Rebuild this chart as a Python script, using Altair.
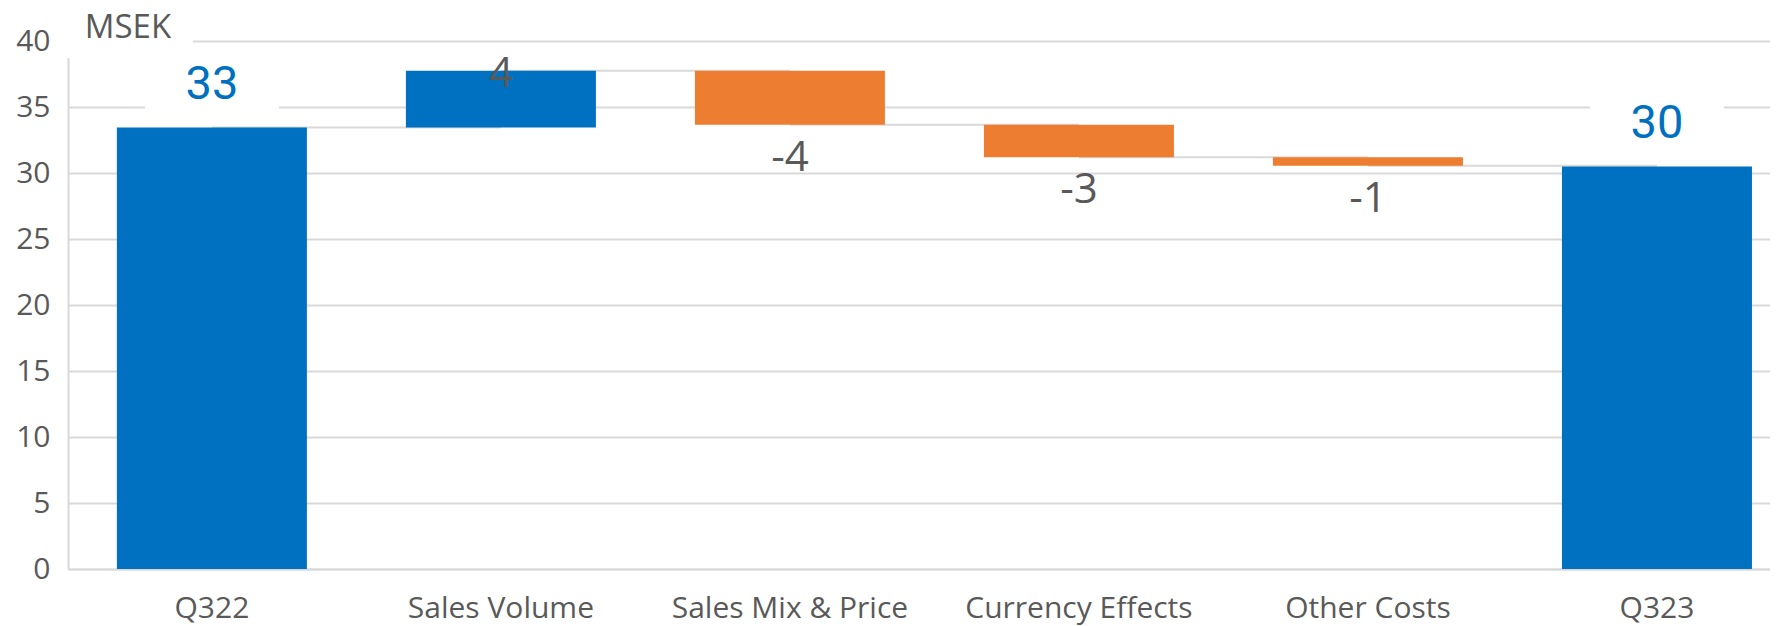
import altair as alt
import pandas as pd

categories = ["Q322", "Sales Volume", "Sales Mix & Price", "Currency Effects", "Other Costs", "Q323"]
bar_start = [0, 33.45, 37.75, 33.65, 31.2, 0]
bar_end = [33.45, 37.75, 33.65, 31.2, 30.55, 30.5]
labels = ["33", "4", "-4", "-3", "-1", "30"]
kinds = ["total", "up", "down", "down", "down", "total"]
y_ticks = [0, 5, 10, 15, 20, 25, 30, 35, 40]
unit_label = "MSEK"

df = pd.DataFrame({
    "category": categories,
    "start": bar_start,
    "end": bar_end,
    "label": labels,
    "kind": kinds,
})
conn = pd.DataFrame({
    "category": categories[:-1],
    "next": categories[1:],
    "level": bar_end[:-1],
})

GRID = "#d9d9d9"
TXT = "#595959"
BLUE = "#0070C0"
ORANGE = "#ED7D31"

x_scale = alt.Scale(domain=categories, paddingInner=0.343, paddingOuter=0.116, align=0.73)
y_scale = alt.Scale(domain=[0, 40], nice=False, zero=True)

x_axis = alt.Axis(title=None, labelAngle=0, labelFontSize=30, labelColor=TXT, labelFont="Open Sans",
                  ticks=False, domainColor=GRID, domainWidth=2, labelPadding=24, labelLimit=500,
                  grid=False)
y_axis = alt.Axis(title=None, values=y_ticks, labelFontSize=30, labelColor=TXT, labelFont="Open Sans",
                  ticks=False, domainColor=GRID, domainWidth=2, labelPadding=18,
                  grid=True, gridColor=GRID, gridWidth=2)


def X():
    return alt.X("category:N", scale=x_scale, sort=categories, axis=x_axis)


def Y(field):
    return alt.Y(field, scale=y_scale, axis=y_axis)


connectors = alt.Chart(conn).mark_rule(color=GRID, strokeWidth=2).encode(
    x=X(), x2="next:N", y=Y("level:Q"),
)

bars = alt.Chart(df).mark_bar(size=190).encode(
    x=X(), y=Y("start:Q"), y2="end:Q",
    color=alt.Color("kind:N", scale=alt.Scale(domain=["total", "up", "down"], range=[BLUE, BLUE, ORANGE]), legend=None),
)

masks = alt.Chart(df).transform_filter("datum.kind == 'total'").transform_calculate(
    m_lo="datum.end + 0.5", m_hi="datum.end + 5"
).mark_bar(size=134, color="white").encode(
    x=X(), y=Y("m_lo:Q"), y2="m_hi:Q",
)

unit_mask = alt.Chart(df).mark_rect(color="white").encode(
    x=alt.value(-5), x2=alt.value(125), y=alt.value(-33), y2=alt.value(17)
)

total_labels = alt.Chart(df).transform_filter("datum.kind == 'total'").mark_text(
    font="Roboto", fontSize=47, color=BLUE, baseline="middle", dy=-42
).encode(x=X(), y=Y("end:Q"), text="label:N")

up_labels = alt.Chart(df).transform_filter("datum.kind == 'up'").mark_text(
    font="Open Sans", fontSize=42, color=TXT, baseline="middle", dy=3
).encode(x=X(), y=Y("end:Q"), text="label:N")

down_labels = alt.Chart(df).transform_filter("datum.kind == 'down'").mark_text(
    font="Open Sans", fontSize=42, color=TXT, baseline="middle", dy=33
).encode(x=X(), y=Y("end:Q"), text="label:N")

unit_text = alt.Chart(pd.DataFrame({"t": [unit_label]})).mark_text(
    font="Open Sans", fontSize=33, color=TXT, baseline="middle", align="center"
).encode(x=alt.value(60), y=alt.value(-13), text="t:N")

chart = alt.layer(
    connectors, bars, masks, unit_mask, total_labels, up_labels, down_labels, unit_text
).properties(
    width=1702, height=528,
    autosize=alt.AutoSizeParams(type="none"),
    padding={"left": 60, "top": 33, "right": 0, "bottom": 57},
).configure_view(stroke=None).configure(background="white")

chart.save("out.html", embed_options={"renderer": "svg", "actions": False})
